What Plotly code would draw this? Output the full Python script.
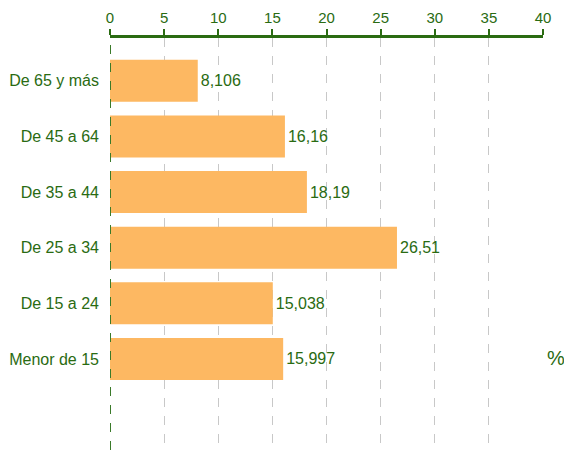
import plotly.graph_objects as go

categories = ["Menor de 15", "De 15 a 24", "De 25 a 34", "De 35 a 44", "De 45 a 64", "De 65 y más"]
values = [15.997, 15.038, 26.51, 18.19, 16.16, 8.106]
labels = [str(v).replace(".", ",") for v in values]
x_ticks = [0, 5, 10, 15, 20, 25, 30, 35, 40]

green = "#2a6b12"
fam = "Liberation Sans, Arial, sans-serif"

fig = go.Figure(go.Bar(
    y=categories, x=values, orientation="h",
    marker=dict(color="#fdb862", line=dict(width=0)),
    width=0.755,
    text=labels, textposition="outside", cliponaxis=False,
    textfont=dict(family=fam, size=16, color=green),
))

fig.update_layout(
    width=556, height=442,
    margin=dict(l=102, r=21, t=30, b=0),
    plot_bgcolor="white", paper_bgcolor="white",
    font=dict(family=fam, size=15, color=green), showlegend=False,
    xaxis=dict(
        side="top", range=[0, 40], tickvals=x_ticks, automargin=False,
        showgrid=True, gridcolor="#c8c8c8", griddash="dash", gridwidth=1,
        showline=True, linecolor=green, linewidth=2.5,
        ticks="outside", ticklen=6, tickwidth=2, tickcolor=green,
        zeroline=False, tickfont=dict(family=fam, size=15, color=green),
    ),
    yaxis=dict(
        categoryorder="array", categoryarray=categories, automargin=False,
        range=[-1.636, 5.77], showgrid=False, zeroline=False,
        ticks="", ticklabelstandoff=10, showline=False,
        tickfont=dict(family=fam, size=16, color=green),
    ),
    shapes=[dict(type="line", xref="x", x0=0, x1=0, yref="paper", y0=0, y1=1,
                 line=dict(color="#3a7a2a", width=2, dash="dash"), layer="above")],
    annotations=[dict(text="%", xref="paper", yref="paper", x=1.0, y=(442-350)/412,
                      showarrow=False, font=dict(family=fam, size=20, color=green),
                      xanchor="left", yanchor="middle", xshift=2)],
)

fig.write_html("out.html")
